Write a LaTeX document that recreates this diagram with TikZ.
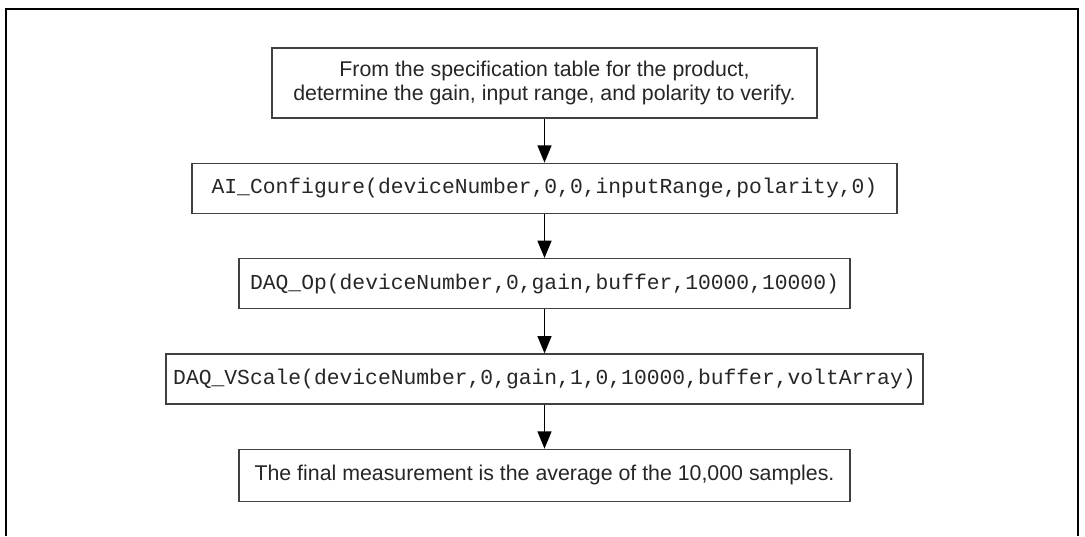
\documentclass[tikz,border=0pt]{standalone}
\usepackage{fontspec}
\setmainfont{Liberation Sans}
\setmonofont{Liberation Mono}
\usetikzlibrary{positioning,chains,arrows.meta}
\definecolor{boxgray}{gray}{0.25}
\tikzset{
	>={Triangle[length=13pt,width=10.5pt]},
	stepbox/.style={
		rectangle,
		draw=boxgray, line width=1pt,
		text=black!85,
		minimum height=37.5pt,
		inner sep=3pt,
		align=center,
		font=\fontsize{16}{18}\selectfont,
		on chain},
	codebox/.style={stepbox, font=\fontsize{16}{18}\selectfont\ttfamily},
	frameline/.style={draw, line width=1.9pt},
	every join/.style={->, line width=1.1pt},
}

\begin{document}
\begin{tikzpicture}
[x=0.75pt, y=-0.75pt,
node distance=33pt,
start chain=going below,]
\useasboundingbox (0,0) rectangle (1085,536);
\draw[frameline] (6,536) -- (6,9) -- (1078,9) -- (1078,536);
\node[stepbox, minimum width=408.75pt, minimum height=52.5pt] (spec) at (544.5,83)
	{From the specification table for the product,\\ determine the gain, input range, and polarity to verify.};
\node[codebox, join, minimum width=528.75pt] (config)
	{AI\_Configure(deviceNumber,0,0,inputRange,polarity,0)};
\node[codebox, join, minimum width=458.25pt] (daqop)
	{DAQ\_Op(deviceNumber,0,gain,buffer,10000,10000)};
\node[codebox, join, minimum width=567.75pt] (vscale)
	{DAQ\_VScale(deviceNumber,0,gain,1,0,10000,buffer,voltArray)};
\node[stepbox, join, minimum width=458.25pt, minimum height=39pt] (result)
	{The final measurement is the average of the 10,000 samples.};
\end{tikzpicture}
\end{document}
